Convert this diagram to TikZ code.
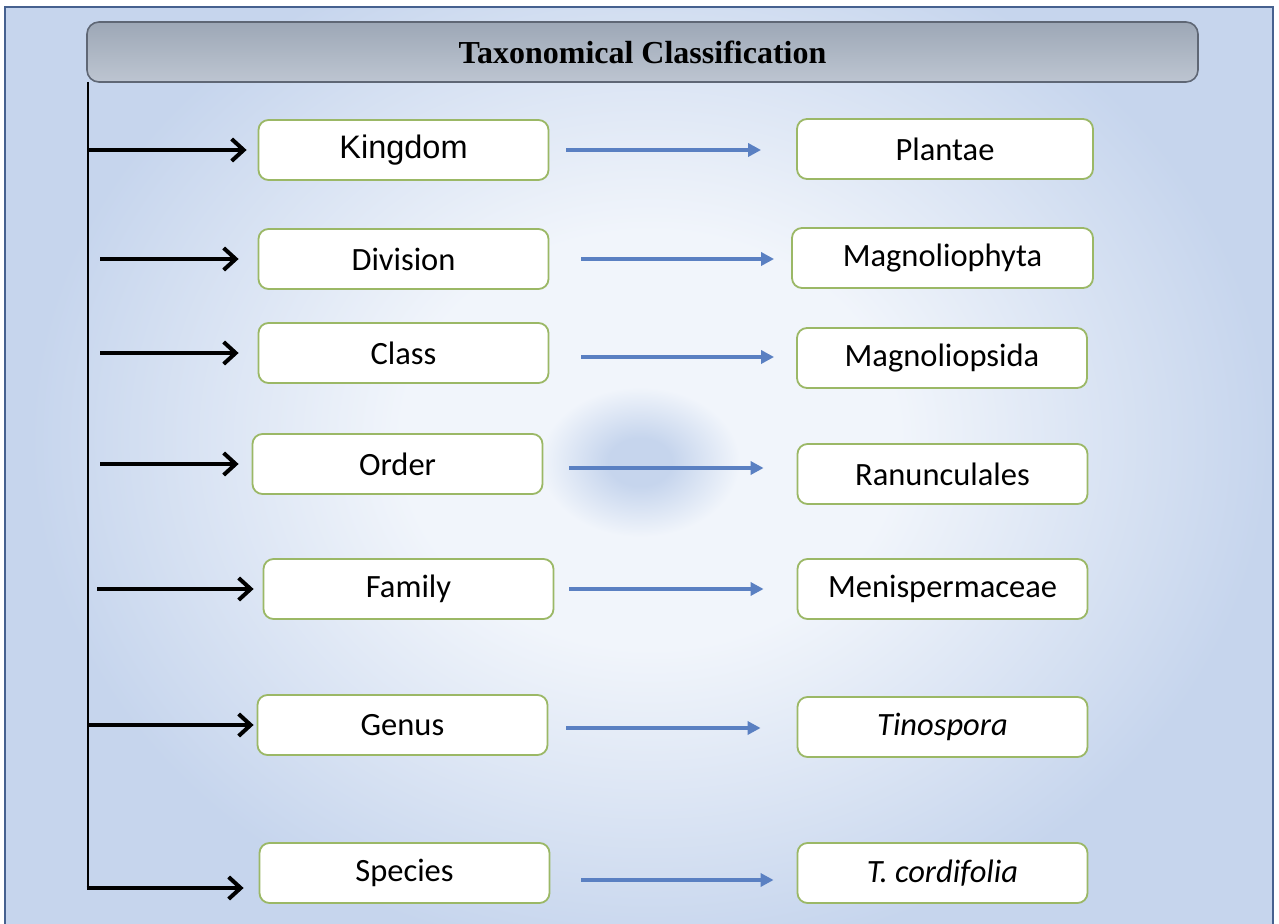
\documentclass[tikz,border=0pt]{standalone}
\usepackage{fontspec}
\setmainfont{Carlito}
\newfontfamily\arialfont{Liberation Sans}
\newfontfamily\timesfont{Liberation Serif}
\usetikzlibrary{arrows.meta,calc}
\definecolor{bgblue}{HTML}{C6D5ED}
\definecolor{glowwhite}{HTML}{F1F5FB}
\definecolor{blobblue}{HTML}{C6D5ED}
\definecolor{framecol}{HTML}{46618F}
\definecolor{bartop}{HTML}{9DA7B6}
\definecolor{barbot}{HTML}{BDC5D1}
\definecolor{barline}{HTML}{5F6775}
\definecolor{boxline}{HTML}{9BB866}
\definecolor{arrowblue}{HTML}{5A80C2}
\pgfdeclareradialshading{glow}{\pgfpoint{0bp}{0bp}}{color(0bp)=(glowwhite); color(10bp)=(glowwhite); color(25bp)=(bgblue); color(50bp)=(bgblue)}
\pgfdeclareradialshading{blob}{\pgfpoint{0bp}{0bp}}{color(0bp)=(blobblue); color(8bp)=(blobblue); color(25bp)=(glowwhite); color(50bp)=(glowwhite)}
\tikzset{
	rank/.style={draw=boxline, line width=0.9pt, fill=white, rounded corners=5pt, minimum width=145pt, minimum height=30pt, inner sep=0pt, font=\fontsize{16.25}{19}\selectfont},
	titlebar/.style={draw=barline, line width=0.8pt, top color=bartop, bottom color=barbot, rounded corners=6pt, minimum width=555.5pt, minimum height=30pt, font=\timesfont\bfseries\fontsize{16}{19}\selectfont},
	spineline/.style={line width=1.4pt},
	blackarrow/.style={line width=2pt, -{Straight Barb[length=6pt,width=11pt]}},
	bluearrow/.style={draw=arrowblue, line width=1.7pt, -{Triangle[length=6.5pt,width=6.5pt]}}
}
\begin{document}
\begin{tikzpicture}[x=0.5pt, y=-0.5pt]
	%%%%% BACKGROUND %%%%%
	\useasboundingbox (0,0) rectangle (1279,924);
	\fill[white] (0,0) rectangle (1279,924);
	\fill[bgblue] (5,7) rectangle (1273,924);
	\begin{scope}
		\clip (5,7) rectangle (1273,924);
		\shade[shading=glow] (650,440) ellipse (620 and 520);
		\shade[shading=blob] (640,462) ellipse (100 and 75);
	\end{scope}
	\draw[framecol, line width=0.8pt] (5,930) -- (5,7) -- (1273,7) -- (1273,930);
	
	%%%%% TITLE %%%%%
	\node[titlebar] (title) at (642.5,52) {Taxonomical Classification};
	
	%%%%% RANKS %%%%%
	\node[rank, font=\arialfont\fontsize{16.25}{19}\selectfont] (kingdom) at (403.5,150) {Kingdom};
	\node[rank] (division) at (403.5,259) {Division};
	\node[rank] (class) at (403.5,353) {Class};
	\node[rank] (order) at (397.5,464) {Order};
	\node[rank] (family) at (408.5,589) {Family};
	\node[rank] (genus) at (402.5,725) {Genus};
	\node[rank] (species) at (404.5,873) {Species};
	
	%%%%% TAXA %%%%%
	\node[rank, minimum width=148pt] (plantae) at (945,149) {Plantae};
	\node[rank, minimum width=150.5pt] (magnoliophyta) at (942.5,258) {Magnoliophyta};
	\node[rank] (magnoliopsida) at (942,358) {Magnoliopsida};
	\node[rank] (ranunculales) at (942.5,474) {Ranunculales};
	\node[rank] (menispermaceae) at (942.5,589) {Menispermaceae};
	\node[rank] (tinospora) at (942.5,727) {\itshape Tinospora};
	\node[rank] (cordifolia) at (942.5,873) {\itshape T. cordifolia};
	
	%%%%% SPINE %%%%%
	\coordinate (spinetop) at (88,82);
	\coordinate (spinefoot) at ($(species.west -| spinetop)+(0,15)$);
	\draw[spineline] (spinetop) -- (spinefoot);
	\draw[blackarrow, shorten <=-0.7pt, shorten >=7.5pt] (spinefoot) -- ($(species.west)+(0,15)$);
	\draw[blackarrow, shorten >=5.5pt] (kingdom.west -| spinetop) -- (kingdom.west);
	\draw[blackarrow, shorten <=6pt, shorten >=9.5pt] (division.west -| spinetop) -- (division.west);
	\draw[blackarrow, shorten <=6pt, shorten >=9.5pt] (class.west -| spinetop) -- (class.west);
	\draw[blackarrow, shorten <=6pt, shorten >=6.5pt] (order.west -| spinetop) -- (order.west);
	\draw[blackarrow, shorten <=4.5pt, shorten >=4.5pt] (family.west -| spinetop) -- (family.west);
	\draw[blackarrow, shorten >=1.5pt] (genus.west -| spinetop) -- (genus.west);
	
	%%%%% RANK TO TAXON %%%%%
	\draw[bluearrow, shorten <=8.5pt, shorten >=17.5pt] (kingdom.east) -- (kingdom.east -| plantae.west);
	\draw[bluearrow, shorten <=16pt, shorten >=8.5pt] (division.east) -- (division.east -| magnoliophyta.west);
	\draw[bluearrow, shorten <=16pt, shorten >=11pt] ($(class.east)+(0,4)$) -- ($(class.east -| magnoliopsida.west)+(0,4)$);
	\draw[bluearrow, shorten <=13pt, shorten >=16.5pt] ($(order.east)+(0,4)$) -- ($(order.east -| ranunculales.west)+(0,4)$);
	\draw[bluearrow, shorten <=7.5pt, shorten >=16.5pt] (family.east) -- (family.east -| menispermaceae.west);
	\draw[bluearrow, shorten <=9pt, shorten >=18pt] ($(genus.east)+(0,3)$) -- ($(genus.east -| tinospora.west)+(0,3)$);
	\draw[bluearrow, shorten <=15.5pt, shorten >=11.5pt] ($(species.east)+(0,7)$) -- ($(species.east -| cordifolia.west)+(0,7)$);
\end{tikzpicture}
\end{document}
